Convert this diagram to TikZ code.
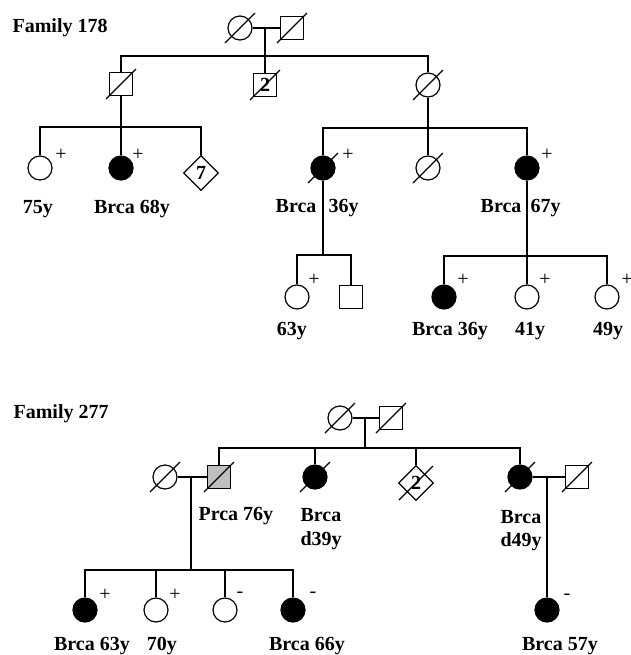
\documentclass[tikz,border=0pt]{standalone}
\usepackage{fontspec}
\setmainfont{Liberation Serif}
\usetikzlibrary{shapes.geometric}

\tikzset{
    female/.style={circle,draw,fill=white,minimum size=12pt,inner sep=0pt},
    male/.style={rectangle,draw,fill=white,minimum size=11.5pt,inner sep=0pt,font=\bfseries},
    unknown/.style={diamond,draw,fill=white,minimum size=17.5pt,inner sep=0pt,font=\bfseries},
    affected/.style={fill=black},
    txt/.style={font=\bfseries,inner sep=0pt},
    sgn/.style={inner sep=0pt}
}

\begin{document}
\begin{tikzpicture}[x=0.5pt,y=-0.5pt,line width=0.6pt]
    \useasboundingbox (0,0) rectangle (631,655);

    % Family 178
    \node[txt,anchor=base west] (aname) at (12,32) {Family 178};
    \node[female] (agm) at (240,28) {};
    \node[male] (agf) at (292,28) {};
    \coordinate (amar) at (265,28);
    \coordinate (asib) at (265,56);
    \node[male] (as1) at (121,84) {};
    \node[male] (as2) at (265,85) {2};
    \node[female] (ad1) at (428,85) {};
    \coordinate (asib1) at (121,127);
    \node[female] (ac1) at (40,168) {};
    \node[female,affected] (ac2) at (121,168) {};
    \node[unknown] (ac3) at (201,173) {7};
    \coordinate (asib2) at (428,128);
    \node[female,affected] (ae1) at (323,168) {};
    \node[female] (ae2) at (428,168) {};
    \node[female,affected] (ae3) at (527,168) {};
    \coordinate (asib3) at (323,255);
    \node[female] (ak1) at (297,297) {};
    \node[male] (ak2) at (351,297) {};
    \coordinate (asib4) at (527,256);
    \node[female,affected] (am1) at (444,297) {};
    \node[female] (am2) at (527,297) {};
    \node[female] (am3) at (607,297) {};

    \draw (agm) -- (agf);
    \draw (amar) -- (as2);
    \draw (as1) |- (asib) -| (ad1);
    \draw (as1) -- (ac2);
    \draw (ac1) |- (asib1) -| (ac3);
    \draw (ad1) -- (ae2);
    \draw (ae1) |- (asib2) -| (ae3);
    \draw (ae1) -- (asib3);
    \draw (ak1) |- (asib3) -| (ak2);
    \draw (ae3) -- (am2);
    \draw (am1) |- (asib4) -| (am3);

    \node[txt,anchor=base] (al1) at (38,213) {75y};
    \node[txt,anchor=base] (al2) at (132,213) {Brca 68y};
    \node[txt,anchor=base east] (al3) at (317,212) {Brca};
    \node[txt,anchor=base west] (al4) at (328,212) {36y};
    \node[txt,anchor=base east] (al5) at (522,212) {Brca};
    \node[txt,anchor=base west] (al6) at (530,212) {67y};
    \node[txt,anchor=base] (al7) at (292,335) {63y};
    \node[txt,anchor=base] (al8) at (450,335) {Brca 36y};
    \node[txt,anchor=base] (al9) at (530,335) {41y};
    \node[txt,anchor=base] (al10) at (608,335) {49y};

    \foreach \p [count=\i] in {(61,155),(138,155),(348,155),(547,155),(314,280),(463,280),(545,280),(627,280)}
        \node[sgn] (ap\i) at \p {+};

    % Family 277
    \node[txt,anchor=base west] (bname) at (13,418) {Family 277};
    \node[female] (bgm) at (340,418) {};
    \node[male] (bgf) at (391,418) {};
    \coordinate (bmar) at (365,418);
    \coordinate (bsib) at (365,448);
    \node[female] (bsp) at (165,477) {};
    \node[male,fill=black!25] (bs1) at (219,477) {};
    \node[female,affected] (bd1) at (315,477) {};
    \node[unknown] (bs2) at (416,483) {2};
    \node[female,affected] (bd2) at (520,477) {};
    \node[male] (bsp2) at (577,477) {};
    \coordinate (bmar1) at (191,477);
    \coordinate (bsib1) at (191,570);
    \node[female,affected] (bc1) at (85,610) {};
    \node[female] (bc2) at (156,610) {};
    \node[female] (bc3) at (225,610) {};
    \node[female,affected] (bc4) at (293,610) {};
    \coordinate (bmar2) at (547,477);
    \node[female,affected] (bc5) at (547,610) {};

    \draw (bgm) -- (bgf);
    \draw (bmar) -- (bsib);
    \draw (bs1) |- (bsib) -| (bd2);
    \draw (bd1) -- (bd1 |- bsib);
    \draw (bs2) -- (bs2 |- bsib);
    \draw (bsp) -- (bs1);
    \draw (bmar1) -- (bsib1);
    \draw (bc1) |- (bsib1) -| (bc4);
    \draw (bc2) -- (bc2 |- bsib1);
    \draw (bc3) -- (bc3 |- bsib1);
    \draw (bd2) -- (bsp2);
    \draw (bmar2) -- (bc5);

    \node[txt,anchor=base west] (bl1) at (198,520) {Prca 76y};
    \node[txt,anchor=base west] (bl2) at (300,521) {Brca};
    \node[txt,anchor=base west] (bl3) at (300,545) {d39y};
    \node[txt,anchor=base west] (bl4) at (500,523) {Brca};
    \node[txt,anchor=base west] (bl5) at (500,546) {d49y};
    \node[txt,anchor=base] (bl6) at (92,650) {Brca 63y};
    \node[txt,anchor=base] (bl7) at (162,650) {70y};
    \node[txt,anchor=base] (bl8) at (307,650) {Brca 66y};
    \node[txt,anchor=base] (bl9) at (560,650) {Brca 57y};

    \foreach \p/\s [count=\i] in {(105,595)/+,(175,595)/+,(240,595)/-,(313,595)/-,(567,597)/-}
        \node[sgn] (bp\i) at \p {\s};

    % deceased
    \foreach \n in {agm,agf,as1,as2,ad1,ae1,ae2,bgm,bgf,bsp,bs1,bd1,bd2,bsp2}
        \draw ([shift={(-7.5pt,-7.5pt)}]\n.center) -- ([shift={(7.5pt,7.5pt)}]\n.center);
    \draw ([shift={(-8.5pt,-8.5pt)}]bs2.center) -- ([shift={(8.5pt,8.5pt)}]bs2.center);
\end{tikzpicture}
\end{document}
